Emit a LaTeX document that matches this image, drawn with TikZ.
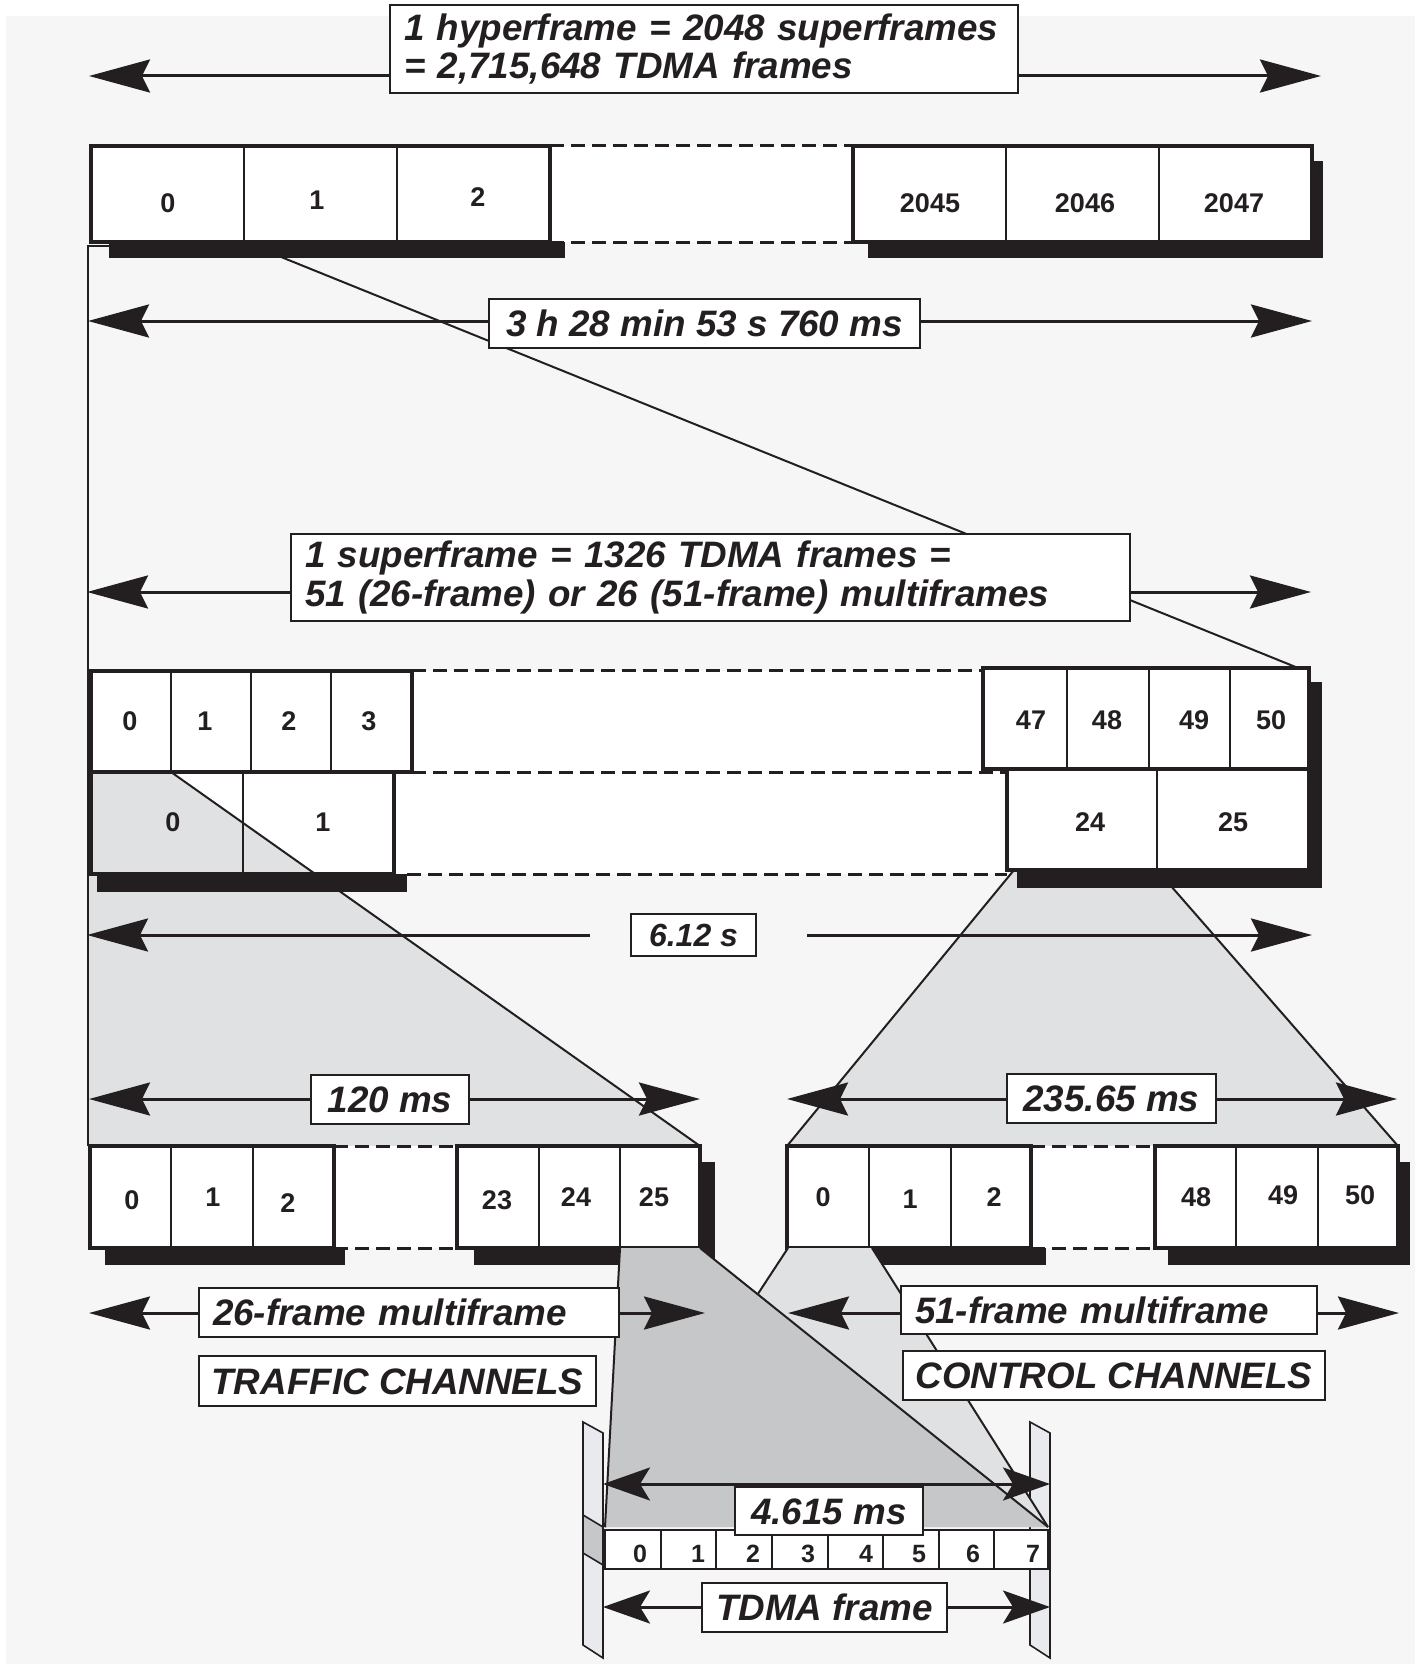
\documentclass[tikz,border=0pt]{standalone}
\usepackage{fontspec}
\setmainfont{Liberation Sans}
\usetikzlibrary{arrows.meta}
\definecolor{bgc}{HTML}{F6F6F6}
\definecolor{lgray}{HTML}{E0E1E3}
\definecolor{dgray}{HTML}{C6C7C9}
\definecolor{ink}{HTML}{231F20}
\definecolor{barc}{HTML}{E8EAEE}
\newcommand\mkcell[6][]{%
  \pgfmathsetmacro\mkW{#5-#3}\pgfmathsetmacro\mkH{#6-#4}%
  \pgfmathsetmacro\mkX{(#3+#5)/2}\pgfmathsetmacro\mkY{(#4+#6)/2}%
  \node[cellbox,minimum width=\mkW pt,minimum height=\mkH pt,#1] (#2) at (\mkX,\mkY) {};}
\newcommand\mklbl[7][]{%
  \pgfmathsetmacro\mkW{#5-#3}\pgfmathsetmacro\mkH{#6-#4}%
  \pgfmathsetmacro\mkX{(#3+#5)/2}\pgfmathsetmacro\mkY{(#4+#6)/2}%
  \pgfmathsetmacro\mkT{#5-#3-28}%
  \node[lblbox,minimum width=\mkW pt,minimum height=\mkH pt,#1] (#2) at (\mkX,\mkY) {#7};}
\tikzset{
  BigTip/.tip={Stealth[length=61pt,width=33pt,inset=8pt]},
  SmallTip/.tip={Stealth[length=47pt,width=33pt,inset=10pt]},
  cellbox/.style={draw=ink,fill=white,line width=2.2pt,inner sep=0pt},
  num/.style={font=\fontsize{27}{30}\selectfont\bfseries,inner sep=0pt,text height=19.3pt,text depth=0pt,text=ink},
  tnum/.style={font=\fontsize{25}{28}\selectfont\bfseries,inner sep=0pt,text height=17.9pt,text depth=0pt,text=ink},
  lblbox/.style={draw=ink,fill=white,line width=2.8pt,inner sep=0pt,text=ink,
    font=\fontsize{36.8}{38.5}\selectfont\bfseries\itshape},
  leftlbl/.style={text width=\mkT pt,align=left,inner xsep=14pt},
  oneline/.style={text height=26.3pt,text depth=0pt},
  dim/.style={draw=ink,line width=3pt,BigTip-BigTip},
  sdim/.style={draw=ink,line width=3pt,SmallTip-SmallTip},
  zoomline/.style={draw=ink,line width=2pt},
  grp/.style={draw=ink,line width=3.5pt},
  gapdash/.style={draw=ink,line width=3pt,dash pattern=on 14pt off 7pt},
}
\begin{document}
\begin{tikzpicture}[x=1pt,y=-1pt]
\useasboundingbox (0,0) rectangle (1422,1664);
\fill[bgc] (6,16) rectangle (1415,1664);

% ---- hyperframe dimension
\coordinate (hL) at (89,76); \coordinate (hR) at (1321,76);
\draw[dim] (hL) -- (hR);
\mklbl[leftlbl]{hyper}{390}{5}{1018}{93}{\mbox{1 hyperframe = 2048 superframes}\\\mbox{= 2,715,648 TDMA frames}}

% ---- zoom lines from hyperframe
\coordinate (zA) at (110,246); \coordinate (zB) at (88,246); \coordinate (zC) at (88,1146);
\draw[zoomline] (zA) -- (zB) -- (zC);
\coordinate (zD) at (244,242); \coordinate (zE) at (1308,672);
\draw[zoomline] (zD) -- (zE);

% ---- hyperframe row
\fill[ink] (109,242) rectangle (565,258);
\fill[ink] (868,242) rectangle (1323,258);
\fill[ink] (1312,161) rectangle (1323,258);
\fill[white] (91,146) rectangle (1312,242);
\mkcell{h0}{91}{146}{244}{242}
\mkcell{h1}{244}{146}{397}{242}
\mkcell{h2}{397}{146}{550}{242}
\mkcell{h2045}{853}{146}{1006}{242}
\mkcell{h2046}{1006}{146}{1159}{242}
\mkcell{h2047}{1159}{146}{1312}{242}
\draw[grp] (91,146) rectangle (550,242);
\draw[grp] (853,146) rectangle (1312,242);
\draw[gapdash] (550,146) -- (853,146);
\draw[gapdash] (550,242) -- (853,242);
\node[num] (h0t) at (168,203) {0};
\node[num] (h1t) at (317,200) {1};
\node[num] (h2t) at (478,197) {2};
\node[num] (h2045t) at (930,203) {2045};
\node[num] (h2046t) at (1085,203) {2046};
\node[num] (h2047t) at (1234,203) {2047};

% ---- 3 h dimension
\coordinate (tL) at (88,321); \coordinate (tR) at (1312,321);
\draw[dim] (tL) -- (tR);
\mklbl[oneline]{threeh}{489}{299}{920}{348}{3 h 28 min 53 s 760 ms}

% ---- superframe dimension
\coordinate (sL) at (87,592); \coordinate (sR) at (1311,592);
\draw[dim] (sL) -- (sR);
\mklbl[leftlbl]{super}{291}{534}{1130}{621}{\mbox{1 superframe = 1326 TDMA frames =}\\\mbox{51 (26-frame) or 26 (51-frame) multiframes}}

% ---- superframe rows: white under, then gray zoom regions
\fill[white] (91,671) rectangle (983,772);
\fill[white] (983,668) rectangle (1309,769);
\fill[white] (91,772) rectangle (1007,874);
\fill[white] (1007,769) rectangle (1309,870);
\fill[lgray] (88,772) -- (171,772) -- (700,1146) -- (88,1146) -- cycle;
\fill[lgray] (1014,870) -- (1157,870) -- (1398,1146) -- (787,1146) -- cycle;
\coordinate (gA) at (171,772); \coordinate (gB) at (700,1146);
\coordinate (gC) at (1014,870); \coordinate (gD) at (787,1146);
\coordinate (gE) at (1157,870); \coordinate (gF) at (1398,1146);
\coordinate (gG) at (88,772);
\draw[zoomline] (gA) -- (gB);
\draw[zoomline] (gC) -- (gD);
\draw[zoomline] (gE) -- (gF);
\draw[zoomline] (gG) -- (zC);
% shadows
\fill[ink] (97,874) rectangle (407,892);
\fill[ink] (1017,870) rectangle (1322,888);
\fill[ink] (1309,682) rectangle (1322,888);
% row 1
\mkcell{s0}{91}{671}{171}{772}
\mkcell{s1}{171}{671}{251}{772}
\mkcell{s2}{251}{671}{331}{772}
\mkcell{s3}{331}{671}{412}{772}
\mkcell{s47}{983}{668}{1067}{769}
\mkcell{s48}{1067}{668}{1149}{769}
\mkcell{s49}{1149}{668}{1230}{769}
\mkcell{s50}{1230}{668}{1309}{769}
% row 2
\mkcell[fill=none]{m0}{91}{772}{243}{874}
\mkcell[fill=none]{m1}{243}{772}{394}{874}
\mkcell{m24}{1007}{769}{1157}{870}
\mkcell{m25}{1157}{769}{1309}{870}
\draw[grp] (91,671) rectangle (412,772);
\draw[grp] (983,668) rectangle (1309,769);
\draw[grp] (91,772) rectangle (394,874);
\draw[grp] (1007,769) rectangle (1309,870);
\draw[gapdash] (412,670) -- (983,670);
\draw[gapdash] (412,772) -- (1007,772);
\draw[gapdash] (407,874) -- (1007,874);
\node[num] (s0t) at (130,721) {0};
\node[num] (s1t) at (205,721) {1};
\node[num] (s2t) at (289,721) {2};
\node[num] (s3t) at (369,721) {3};
\node[num] (s47t) at (1031,720) {47};
\node[num] (s48t) at (1107,720) {48};
\node[num] (s49t) at (1194,720) {49};
\node[num] (s50t) at (1271,720) {50};
\node[num] (m0t) at (173,822) {0};
\node[num] (m1t) at (323,822) {1};
\node[num] (m24t) at (1090,822) {24};
\node[num] (m25t) at (1233,822) {25};

% ---- 6.12 s
\coordinate (xL) at (87,935); \coordinate (xLe) at (590,935);
\coordinate (xRs) at (807,935); \coordinate (xR) at (1312,935);
\draw[draw=ink,line width=3pt,BigTip-] (xL) -- (xLe);
\draw[draw=ink,line width=3pt,-BigTip] (xRs) -- (xR);
\mklbl[oneline,font=\fontsize{32}{34}\selectfont\bfseries\itshape,text height=23pt]{six}{631}{914}{756}{956}{6.12 s}

% ---- 120 ms and 235.65 ms
\coordinate (aL) at (89,1099); \coordinate (aR) at (700,1099);
\draw[dim] (aL) -- (aR);
\mklbl[oneline]{ms120}{311}{1075}{469}{1124}{120 ms}
\coordinate (bL) at (787,1099); \coordinate (bR) at (1397,1099);
\draw[dim] (bL) -- (bR);
\mklbl[oneline]{ms235}{1007}{1074}{1216}{1123}{235.65 ms}

% ---- 26-frame row
\fill[ink] (105,1248) rectangle (345,1265);
\fill[ink] (474,1248) rectangle (715,1265);
\fill[ink] (700,1162) rectangle (715,1265);
\fill[white] (90,1146) rectangle (700,1248);
\mkcell{t0}{90}{1146}{171}{1248}
\mkcell{t1}{171}{1146}{253}{1248}
\mkcell{t2}{253}{1146}{334}{1248}
\mkcell{t23}{457}{1146}{539}{1248}
\mkcell{t24}{539}{1146}{620}{1248}
\mkcell{t25}{620}{1146}{700}{1248}
\draw[grp] (90,1146) rectangle (334,1248);
\draw[grp] (457,1146) rectangle (700,1248);
\draw[gapdash] (334,1146) -- (457,1146);
\draw[gapdash] (334,1248) -- (457,1248);
\node[num] (t0t) at (132,1200) {0};
\node[num] (t1t) at (213,1197) {1};
\node[num] (t2t) at (288,1203) {2};
\node[num] (t23t) at (497,1200) {23};
\node[num] (t24t) at (576,1197) {24};
\node[num] (t25t) at (654,1197) {25};

% ---- 51-frame row
\fill[ink] (869,1248) rectangle (1046,1265);
\fill[ink] (1168,1248) rectangle (1410,1265);
\fill[ink] (1398,1162) rectangle (1410,1265);
\fill[white] (787,1146) rectangle (1398,1248);
\mkcell{c0}{787}{1146}{869}{1248}
\mkcell{c1}{869}{1146}{951}{1248}
\mkcell{c2}{951}{1146}{1031}{1248}
\mkcell{c48}{1155}{1146}{1236}{1248}
\mkcell{c49}{1236}{1146}{1318}{1248}
\mkcell{c50}{1318}{1146}{1398}{1248}
\draw[grp] (787,1146) rectangle (1031,1248);
\draw[grp] (1155,1146) rectangle (1398,1248);
\draw[gapdash] (1031,1146) -- (1155,1146);
\draw[gapdash] (1031,1248) -- (1155,1248);
\node[num] (c0t) at (823,1197) {0};
\node[num] (c1t) at (910,1199) {1};
\node[num] (c2t) at (994,1197) {2};
\node[num] (c48t) at (1196,1197) {48};
\node[num] (c49t) at (1283,1195) {49};
\node[num] (c50t) at (1360,1195) {50};

% ---- TDMA end bars
\filldraw[fill=barc,draw=ink,line width=1.6pt] (583,1422) -- (603,1433) -- (603,1658) -- (583,1645) -- cycle;
\filldraw[fill=dgray,draw=ink,line width=1.6pt] (583,1515) -- (603,1527) -- (603,1565) -- (583,1553) -- cycle;
\filldraw[fill=barc,draw=ink,line width=1.6pt] (1030,1422) -- (1050,1433) -- (1050,1658) -- (1030,1645) -- cycle;

% ---- zoom regions to TDMA frame
\coordinate (kA) at (788,1248); \coordinate (kB) at (872,1248);
\coordinate (kC) at (1048,1527); \coordinate (kD) at (605,1527);
\coordinate (kE) at (620,1248); \coordinate (kF) at (700,1248);
\fill[lgray] (kA) -- (kB) -- (kC) -- (kD) -- cycle;
\draw[zoomline] (kA) -- (kD);
\draw[zoomline] (kB) -- (kC);
\fill[dgray] (kE) -- (kF) -- (kC) -- (kD) -- cycle;
\draw[zoomline] (kE) -- (kD);
\draw[zoomline] (kF) -- (kC);

% ---- multiframe labels
\coordinate (fL) at (89,1313); \coordinate (fR) at (705,1313);
\draw[dim] (fL) -- (fR);
\mklbl[leftlbl,oneline,inner xsep=12pt]{mf26}{199}{1288}{619}{1337}{\mbox{26-frame multiframe}}
\mklbl[oneline]{traffic}{199}{1356}{596}{1406}{TRAFFIC CHANNELS}
\coordinate (eL) at (788,1313); \coordinate (eR) at (1399,1313);
\draw[dim] (eL) -- (eR);
\mklbl[leftlbl,oneline,inner xsep=12pt]{mf51}{901}{1286}{1317}{1334}{\mbox{51-frame multiframe}}
\mklbl[oneline]{control}{903}{1351}{1325}{1400}{CONTROL CHANNELS}

% ---- TDMA frame row
\fill[white] (605,1530) rectangle (1048,1569);
\mkcell{d0}{605}{1530}{661}{1569}
\mkcell{d1}{661}{1530}{716}{1569}
\mkcell{d2}{716}{1530}{772}{1569}
\mkcell{d3}{772}{1530}{828}{1569}
\mkcell{d4}{828}{1530}{883}{1569}
\mkcell{d5}{883}{1530}{939}{1569}
\mkcell{d6}{939}{1530}{994}{1569}
\mkcell{d7}{994}{1530}{1048}{1569}
\draw[draw=ink,line width=2.8pt] (605,1530) rectangle (1048,1569);
\node[tnum] (d0t) at (640,1554) {0};
\node[tnum] (d1t) at (698,1554) {1};
\node[tnum] (d2t) at (753,1554) {2};
\node[tnum] (d3t) at (808,1554) {3};
\node[tnum] (d4t) at (866,1554) {4};
\node[tnum] (d5t) at (919,1554) {5};
\node[tnum] (d6t) at (973,1554) {6};
\node[tnum] (d7t) at (1033,1554) {7};

\coordinate (pL) at (603,1484); \coordinate (pR) at (1050,1484);
\draw[sdim] (pL) -- (pR);
\mklbl[oneline]{ms4615}{735}{1487}{923}{1535}{4.615 ms}
\coordinate (qL) at (603,1607); \coordinate (qR) at (1050,1607);
\draw[sdim] (qL) -- (qR);
\mklbl[oneline]{tdma}{702}{1583}{947}{1632}{TDMA frame}
\end{tikzpicture}
\end{document}
